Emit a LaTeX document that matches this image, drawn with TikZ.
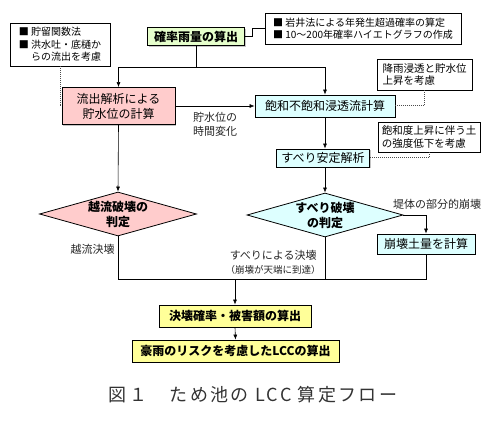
\documentclass[tikz,border=0pt]{standalone}
\usepackage{fontspec}
\setmainfont{Noto Sans CJK JP}
\usetikzlibrary{positioning, shapes.geometric, shadows, arrows.meta}
\definecolor{raingreen}{RGB}{230,255,204}
\definecolor{runpink}{RGB}{255,204,204}
\definecolor{seepcyan}{RGB}{221,255,255}
\definecolor{lccyellow}{RGB}{255,255,153}

\begin{document}
\begin{tikzpicture}[x=1pt, y=-1pt,
  every node/.style={inner sep=0pt, align=center},
  mainbox/.style={draw, line width=0.8pt, drop shadow={shadow xshift=1.2pt, shadow yshift=-1.2pt, fill=black!45}, font=\fontsize{12}{15}\selectfont},
  notebox/.style={draw, line width=0.8pt, fill=white, align=left, inner xsep=3pt, font=\fontsize{10}{12}\selectfont},
  decision/.style={diamond, draw, line width=0.8pt, aspect=3.5, font=\bfseries\fontsize{12}{15}\selectfont},
  flow/.style={-{Latex[length=5pt,width=4pt]}, line width=0.6pt},
  link/.style={line width=0.6pt},
  hint/.style={line width=1pt, densely dotted, black!70},
  remark/.style={font=\fontsize{11}{14}\selectfont, text=black!85}]
  \useasboundingbox (0,0) rectangle (500,422);
  % Top
  \node[mainbox, fill=raingreen, font=\bfseries\fontsize{12}{15}\selectfont, minimum width=97pt, minimum height=18pt] (rain) at (196,36.5) {確率雨量の算出};
  \node[notebox, minimum width=100pt, minimum height=43pt, font=\fontsize{10}{12.5}\selectfont] (rainnote) at (60,44.5) {■ 貯留関数法\\■ 洪水吐・底樋か\\\phantom{■ }らの流出を考慮};
  \node[notebox, minimum width=196pt, minimum height=31pt] (probnote) at (363,28.5) {■ 岩井法による年発生超過確率の算定\\■ 10～200年確率ハイエトグラフの作成};
  \coordinate (split) at (196,67);
  % Runoff side
  \node[mainbox, fill=runpink, minimum width=113pt, minimum height=37pt] (runoff) at (118.5,106) {流出解析による\\貯水位の計算};
  \node[decision, fill=runpink, minimum width=157pt, minimum height=44pt] (overdec) at (118,214) {越流破壊の\\判定};
  % Seepage side
  \node[mainbox, fill=seepcyan, minimum width=140pt, minimum height=22pt] (seepage) at (325,106) {飽和不飽和浸透流計算};
  \node[notebox, inner xsep=1.5pt, minimum width=95pt, minimum height=31pt, font=\fontsize{10.5}{12}\selectfont] (seepnote) at (424.5,74.5) {降雨浸透と貯水位\\上昇を考慮};
  \node[mainbox, fill=seepcyan, minimum width=93pt, minimum height=18pt] (slip) at (323,158) {すべり安定解析};
  \node[notebox, inner xsep=1.5pt, minimum width=102pt, minimum height=30pt, font=\fontsize{10.5}{13}\selectfont] (slipnote) at (429,137) {飽和度上昇に伴う土\\の強度低下を考慮};
  \node[decision, fill=seepcyan, minimum width=156pt, minimum height=44pt] (slipdec) at (325,215) {すべり破壊\\の判定};
  \node[mainbox, fill=seepcyan, minimum width=98pt, minimum height=20pt] (collapse) at (426,244) {崩壊土量を計算};
  % Bottom
  \coordinate (join) at (235,279);
  \node[mainbox, fill=lccyellow, font=\bfseries\fontsize{12}{15}\selectfont, minimum width=152pt, minimum height=22pt] (damage) at (235,316) {決壊確率・被害額の算出};
  \node[mainbox, fill=lccyellow, font=\bfseries\fontsize{12}{15}\selectfont, minimum width=207pt, minimum height=22pt] (lcc) at (235.5,351) {豪雨のリスクを考慮したLCCの算出};
  \node[font=\fontsize{18}{20}\selectfont\addfontfeature{LetterSpace=13}, text=black!80] (caption) at (253,395) {図１　ため池の LCC 算定フロー};
  % Connectors
  \draw[link] (rain.south) -- (split);
  \draw[flow] (split) -| (runoff.north);
  \draw[flow] (split) -| (seepage.north);
  \draw[link] (rain.east) -- ++(7,0) |- (probnote.west);
  \draw[hint] (rainnote.south) |- (runoff.west);
  \draw[flow] (runoff.east) -- (seepage.west) node[remark, pos=0.5, anchor=north, yshift=-6pt, align=left] {貯水位の\\時間変化};
  \draw[hint] (seepnote.south) |- (seepage.east);
  \draw[flow] (seepage.south) -- (seepage.south |- slip.north);
  \draw[hint] (slipnote.south) |- (slip.east);
  \draw[flow] (seepage.south |- slip.south) -- (slipdec.north);
  \draw[flow] (runoff.south) -- (overdec.north);
  \draw[flow] (slipdec.east) -| (collapse.north) node[remark, pos=0.5, anchor=south, xshift=11pt, yshift=5pt] {堤体の部分的崩壊};
  \draw[link] (overdec.south) |- (join) node[remark, pos=0.15, anchor=east, xshift=-3pt] {越流決壊};
  \draw[link] (slipdec.south) |- (join) node[remark, pos=0.3, anchor=east, xshift=-4pt] {すべりによる決壊\\{\fontsize{9.5}{12}\selectfont（崩壊が天端に到達）}};
  \draw[link] (collapse.south) |- (join);
  \draw[flow] (join) -- (damage.north);
  \draw[flow] (damage.south) -- (lcc.north);
\end{tikzpicture}
\end{document}
